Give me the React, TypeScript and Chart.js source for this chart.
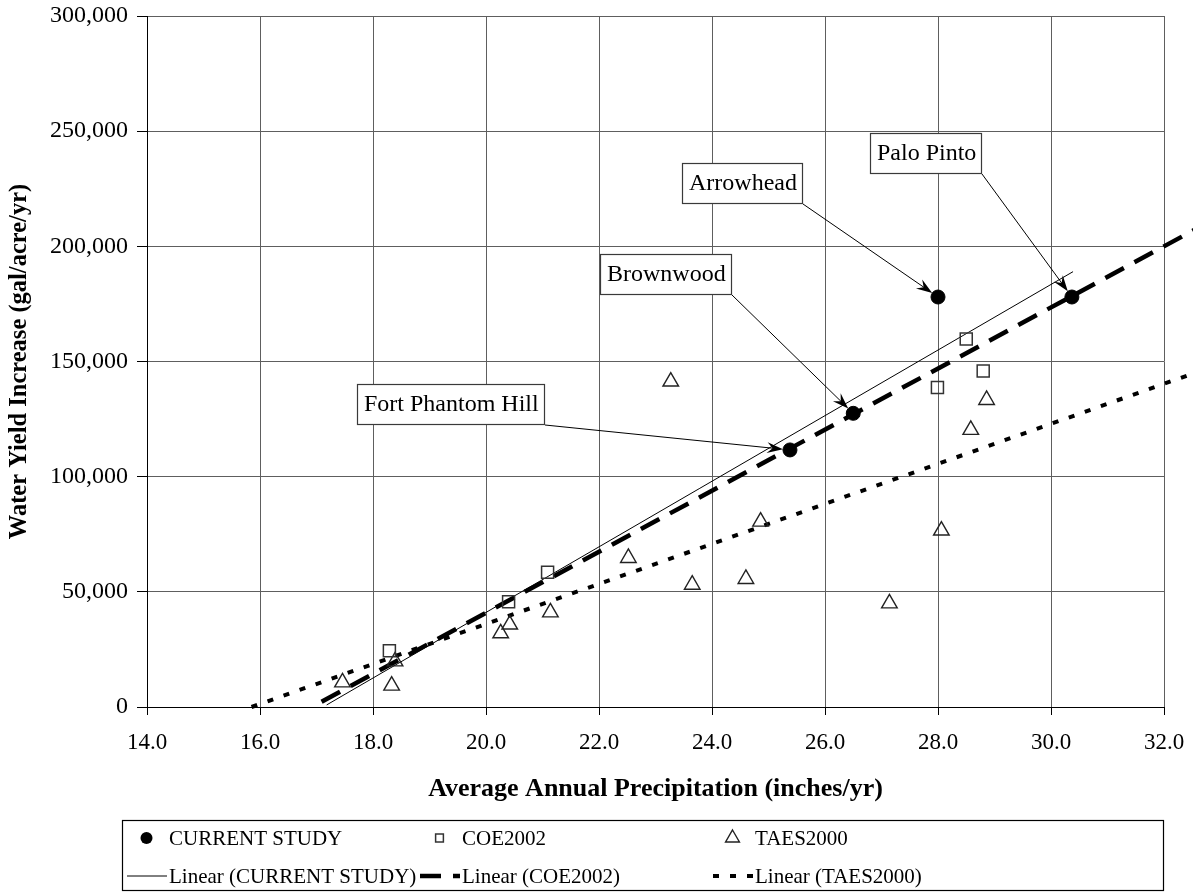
import React, { useEffect, useRef } from 'react';
import { Chart, registerables } from 'chart.js';

Chart.register(...registerables);

const FONT = "'Liberation Serif', 'Times New Roman', serif";

// Current study sites (inches/yr, gal/acre/yr)
const currentStudyNames = ['Fort Phantom Hill', 'Brownwood', 'Arrowhead', 'Palo Pinto'];
const currentStudyX = [25.38, 26.5, 28.0, 30.37];
const currentStudyY = [111600, 127500, 178000, 178000];

// COE 2002 estimates
const coeX = [18.29, 20.4, 21.09, 27.99, 28.5, 28.8];
const coeY = [24400, 45700, 58500, 138700, 159800, 145900];

// TAES 2000 estimates
const taesX = [17.46, 18.33, 18.39, 20.26, 20.42, 21.14, 22.52, 23.27, 23.65, 24.6, 24.86, 27.14, 28.06, 28.58, 28.86];
const taesY = [10700, 9300, 19800, 32000, 35800, 41100, 64700, 141300, 53100, 55600, 80500, 45000, 76600, 120300, 133300];

// Linear trendline end points
const trendCurrentX = [17.18, 30.39];
const trendCurrentY = [900, 189000];
const trendCoeX = [17.09, 32.55];
const trendCoeY = [2300, 207300];
const trendTaesX = [15.85, 32.55];
const trendTaesY = [0, 145100];

// Axis ticks
const xTicks = [14, 16, 18, 20, 22, 24, 26, 28, 30, 32];
const yTicks = [0, 50000, 100000, 150000, 200000, 250000, 300000];

const toPoints = (xs: number[], ys: number[]) => xs.map((x, i) => ({ x, y: ys[i] }));

// Callout boxes for the current-study sites: top-left corner in data units
const calloutBoxes = [
  { x: 17.72, y: 140300 },
  { x: 22.02, y: 196700 },
  { x: 23.47, y: 236200 },
  { x: 26.8, y: 249200 },
];

const calloutPlugin = {
  id: 'siteCallouts',
  afterDatasetsDraw(chart: any) {
    const { ctx, scales } = chart;
    const xs = scales.x;
    const ys = scales.y;
    ctx.save();
    ctx.font = `24px ${FONT}`;
    calloutBoxes.forEach((box, i) => {
      const name = currentStudyNames[i];
      const left = Math.round(xs.getPixelForValue(box.x));
      const top = Math.round(ys.getPixelForValue(box.y));
      const w = Math.round(ctx.measureText(name).width + 12);
      const h = 40;
      const sx = left + w + 1;
      const sy = top + h + 1;
      const px = xs.getPixelForValue(currentStudyX[i]);
      const py = ys.getPixelForValue(currentStudyY[i]);
      const dx = px - sx;
      const dy = py - sy;
      const len = Math.hypot(dx, dy);
      const ux = dx / len;
      const uy = dy / len;
      const tipX = px - ux * 7;
      const tipY = py - uy * 7;
      const L = 16;
      const W = 5.5;
      ctx.strokeStyle = '#000';
      ctx.fillStyle = '#000';
      ctx.lineWidth = 1;
      ctx.beginPath();
      ctx.moveTo(sx, sy);
      ctx.lineTo(tipX - ux * L * 0.6, tipY - uy * L * 0.6);
      ctx.stroke();
      ctx.beginPath();
      ctx.moveTo(tipX, tipY);
      ctx.lineTo(tipX - ux * L - uy * W, tipY - uy * L + ux * W);
      ctx.lineTo(tipX - ux * L * 0.65, tipY - uy * L * 0.65);
      ctx.lineTo(tipX - ux * L + uy * W, tipY - uy * L - ux * W);
      ctx.closePath();
      ctx.fill();
      ctx.fillStyle = '#fff';
      ctx.fillRect(left, top, w, h);
      ctx.strokeStyle = '#3a3a3a';
      ctx.lineWidth = 1.2;
      ctx.strokeRect(left + 0.5, top + 0.5, w, h);
      ctx.fillStyle = '#000';
      ctx.textBaseline = 'middle';
      ctx.textAlign = 'left';
      ctx.fillText(name, left + 7, top + h / 2 + 1);
    });
    ctx.restore();
  },
};

// Marker shapes used in the legend, matching the dataset point styles
function drawMarker(ctx: CanvasRenderingContext2D, style: string, x: number, y: number, r: number) {
  ctx.beginPath();
  if (style === 'circle') {
    ctx.arc(x, y, r, 0, Math.PI * 2);
    ctx.fill();
    return;
  }
  if (style === 'rect') {
    const s = r * Math.SQRT1_2;
    ctx.rect(x - s, y - s, 2 * s, 2 * s);
    ctx.stroke();
    return;
  }
  const a = (2 * Math.PI) / 3;
  ctx.moveTo(x, y - r);
  ctx.lineTo(x + Math.sin(a) * r, y - Math.cos(a) * r);
  ctx.lineTo(x + Math.sin(2 * a) * r, y - Math.cos(2 * a) * r);
  ctx.closePath();
  ctx.stroke();
}

// Boxed legend below the x axis title: 3 columns, markers on the first row, trendlines on the second
const legendPlugin = {
  id: 'boxLegend',
  afterDraw(chart: any) {
    const { ctx } = chart;
    const ds = chart.data.datasets;
    ctx.save();
    ctx.strokeStyle = '#000';
    ctx.lineWidth = 1.2;
    ctx.strokeRect(122.5, 820.5, 1041, 70);
    ctx.font = `21px ${FONT}`;
    ctx.textBaseline = 'middle';
    ctx.textAlign = 'left';

    const row1 = 838;
    const row2 = 876;
    const cols = [127, 420, 713];
    const symbolW = 39;
    const textGap = 42;

    cols.forEach((c, i) => {
      const d = ds[i];
      const r = i === 1 ? 5.5 : i === 0 ? 6 : 8;
      ctx.fillStyle = d.backgroundColor;
      ctx.strokeStyle = d.borderColor;
      ctx.lineWidth = d.borderWidth;
      drawMarker(ctx, d.pointStyle, c + symbolW / 2, row1, r);
      ctx.fillStyle = '#000';
      ctx.fillText(d.label, c + textGap, row1 + 1);

      const t = ds[i + 3];
      ctx.save();
      ctx.strokeStyle = t.borderColor;
      ctx.lineWidth = t.borderWidth;
      ctx.setLineDash(t.borderDash || []);
      ctx.beginPath();
      ctx.moveTo(c, row2);
      ctx.lineTo(c + symbolW + 1, row2);
      ctx.stroke();
      ctx.restore();
      ctx.fillStyle = '#000';
      ctx.fillText(t.label, c + textGap, row2 + 1);
    });
    ctx.restore();
  },
};

export default function App() {
  const canvasRef = useRef<HTMLCanvasElement | null>(null);

  useEffect(() => {
    const canvas = canvasRef.current;
    if (!canvas) return;
    const chart = new Chart(canvas, {
      type: 'scatter',
      data: {
        datasets: [
          {
            label: 'CURRENT STUDY',
            data: toPoints(currentStudyX, currentStudyY),
            pointStyle: 'circle',
            pointRadius: 7,
            backgroundColor: '#000',
            borderColor: '#000',
            borderWidth: 1,
            showLine: false,
          },
          {
            label: 'COE2002',
            data: toPoints(coeX, coeY),
            pointStyle: 'rect',
            pointRadius: 8.5,
            backgroundColor: 'rgba(0,0,0,0)',
            borderColor: '#333',
            borderWidth: 1.5,
            showLine: false,
          },
          {
            label: 'TAES2000',
            data: toPoints(taesX, taesY),
            pointStyle: 'triangle',
            pointRadius: 9,
            backgroundColor: 'rgba(0,0,0,0)',
            borderColor: '#222',
            borderWidth: 1.4,
            showLine: false,
          },
          {
            label: 'Linear (CURRENT STUDY)',
            data: toPoints(trendCurrentX, trendCurrentY),
            showLine: true,
            pointRadius: 0,
            borderColor: '#000',
            borderWidth: 1,
            clip: false,
          },
          {
            label: 'Linear (COE2002)',
            data: toPoints(trendCoeX, trendCoeY),
            showLine: true,
            pointRadius: 0,
            borderColor: '#000',
            borderWidth: 4.5,
            borderDash: [21, 12],
            clip: false,
          },
          {
            label: 'Linear (TAES2000)',
            data: toPoints(trendTaesX, trendTaesY),
            showLine: true,
            pointRadius: 0,
            borderColor: '#000',
            borderWidth: 4,
            borderDash: [6, 11],
            clip: false,
          },
        ],
      },
      options: {
        responsive: false,
        animation: false,
        devicePixelRatio: 1,
        layout: { padding: { left: 0, top: 16, right: 29, bottom: 0 } },
        plugins: {
          legend: { display: false },
          tooltip: { enabled: false },
        },
        scales: {
          x: {
            type: 'linear',
            min: xTicks[0],
            max: xTicks[xTicks.length - 1],
            afterFit: (s: any) => {
              s.height = 185;
              s.paddingLeft = 0;
              s.paddingRight = 0;
            },
            afterBuildTicks: (s: any) => {
              s.ticks = xTicks.map((v) => ({ value: v }));
            },
            ticks: {
              font: { family: FONT, size: 23 },
              color: '#000',
              padding: 14,
              maxRotation: 0,
              autoSkip: false,
              callback: (v: any) => Number(v).toFixed(1),
            },
            grid: { color: '#5e5e5e', lineWidth: 1, tickLength: 8, tickColor: '#000' },
            border: { color: '#000', width: 1 },
            title: {
              display: true,
              text: 'Average Annual Precipitation (inches/yr)',
              font: { family: FONT, size: 26, weight: 'bold' },
              color: '#000',
              padding: { top: 0, bottom: 87 },
            },
          },
          y: {
            type: 'linear',
            min: yTicks[0],
            max: yTicks[yTicks.length - 1],
            afterFit: (s: any) => {
              s.width = 147;
              s.paddingTop = 0;
              s.paddingBottom = 0;
            },
            afterBuildTicks: (s: any) => {
              s.ticks = yTicks.map((v) => ({ value: v }));
            },
            ticks: {
              font: { family: FONT, size: 24 },
              color: '#000',
              padding: 9,
              callback: (v: any) => Number(v).toLocaleString('en-US'),
            },
            grid: { color: '#5e5e5e', lineWidth: 1, tickLength: 10, tickColor: '#000' },
            border: { color: '#000', width: 1 },
            title: {
              display: true,
              text: 'Water Yield Increase (gal/acre/yr)',
              font: { family: FONT, size: 24.5, weight: 'bold' },
              color: '#000',
              padding: { top: 5, bottom: 0 },
            },
          },
        },
      },
      plugins: [calloutPlugin, legendPlugin],
    });
    return () => chart.destroy();
  }, []);

  return (
    <div style={{ position: 'absolute', left: 0, top: 0, width: 1193, height: 892, background: '#fff' }}>
      <canvas ref={canvasRef} width={1193} height={892} />
    </div>
  );
}
